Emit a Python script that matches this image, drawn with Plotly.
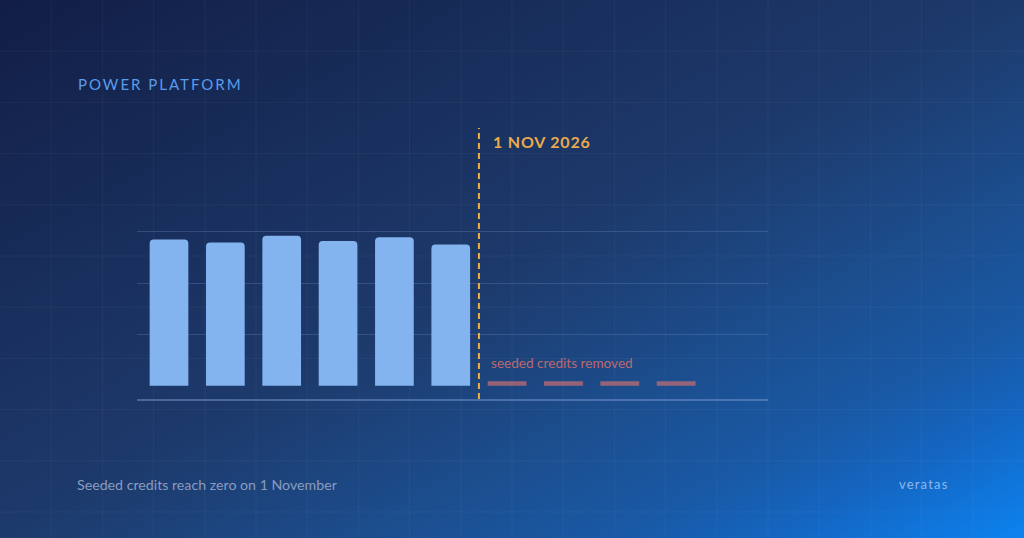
import base64
import plotly.graph_objects as go

# ---- data ----
months = ["May", "Jun", "Jul", "Aug", "Sep", "Oct", "Nov", "Dec", "Jan", "Feb"]
seeded_credits = [285, 279, 292, 282, 289, 275]          # months before cutoff
removed_credits = [0, 0, 0, 0]                           # months after cutoff
grid_values = [100, 200, 300]
title_text = "POWER PLATFORM"
cutoff_label = "1 NOV 2026"
removed_label = "seeded credits removed"
footer_text = "Seeded credits reach zero on 1 November"
brand_text = "veratas"

W, H = 1024, 538
FONT = "Lato, 'Noto Sans', sans-serif"

# ---- background (gradient + faint grid) as SVG image ----
grid_lines = []
step = W / 20
k = 1
while k * step < W:
    grid_lines.append(f'<line x1="{k*step:.1f}" y1="0" x2="{k*step:.1f}" y2="{H}"/>')
    k += 1
k = 1
while k * step < H:
    grid_lines.append(f'<line x1="0" y1="{k*step:.1f}" x2="{W}" y2="{k*step:.1f}"/>')
    k += 1
svg = f'''<svg xmlns="http://www.w3.org/2000/svg" width="{W}" height="{H}" viewBox="0 0 {W} {H}" preserveAspectRatio="none">
<defs>
<linearGradient id="g" x1="0" y1="0" x2="1" y2="1">
<stop offset="0" stop-color="#121e46"/>
<stop offset="0.5" stop-color="#1d3a6c"/>
<stop offset="0.68" stop-color="#1c4e8e"/>
<stop offset="0.8" stop-color="#1959a5"/>
<stop offset="0.88" stop-color="#1466c2"/>
<stop offset="1" stop-color="#0c83f0"/>
</linearGradient>
</defs>
<rect width="{W}" height="{H}" fill="url(#g)"/>
<g stroke="rgba(255,255,255,0.045)" stroke-width="1">{''.join(grid_lines)}</g>
</svg>'''
bg_uri = "data:image/svg+xml;base64," + base64.b64encode(svg.encode()).decode()

# ---- geometry ----
n_before = len(seeded_credits)
x_before = list(range(n_before))
x_after = list(range(n_before, n_before + len(removed_credits)))
half_w = 0.345
cutoff_x = n_before - 0.5

x_dom = [137 / W, 768 / W]
y_dom = [1 - 399 / H, 1 - 120 / H]
x_range = [-0.568, 10.63]
y_range = [-26, 517.6]

fig = go.Figure()

fig.add_trace(go.Bar(
    x=x_before, y=seeded_credits, width=2 * half_w * 0.995,
    marker=dict(color="#83b4f0", cornerradius=4, line=dict(width=0)),
    hoverinfo="skip", showlegend=False,
))

seg_x, seg_y = [], []
for xi, v in zip(x_after, removed_credits):
    seg_x += [xi - half_w, xi + half_w, None]
    seg_y += [v + 4, v + 4, None]
fig.add_trace(go.Scatter(
    x=seg_x, y=seg_y, mode="lines",
    line=dict(color="rgba(172,104,116,0.85)", width=4.5),
    hoverinfo="skip", showlegend=False,
))

fig.add_shape(type="line", xref="x", yref="y", x0=cutoff_x, x1=cutoff_x,
              y0=y_range[0], y1=502,
              line=dict(color="#f0b03e", width=2, dash="6px,4px"))

fig.update_layout(
    width=W, height=H,
    margin=dict(l=0, r=0, t=0, b=0),
    paper_bgcolor="#16264f",
    plot_bgcolor="rgba(0,0,0,0)",
    images=[dict(source=bg_uri, xref="paper", yref="paper", x=0, y=1,
                 sizex=1, sizey=1, sizing="stretch", layer="below")],
    xaxis=dict(domain=x_dom, range=x_range, showgrid=False, zeroline=False,
               showticklabels=False, ticks="", showline=True,
               linecolor="rgba(130,160,215,0.45)", linewidth=1.5,
               tickvals=list(range(len(months))), ticktext=months),
    yaxis=dict(domain=y_dom, range=y_range, tickvals=grid_values,
               showticklabels=False, ticks="", zeroline=False,
               showgrid=True, gridcolor="rgba(120,150,205,0.28)", gridwidth=1.2),
    bargap=0.31,
    annotations=[
        dict(text=f'<span style="letter-spacing:2.0px">{title_text}</span>',
             xref="paper", yref="paper", x=75.5 / W, y=1 - 84 / H,
             xanchor="left", yanchor="middle", showarrow=False,
             font=dict(family=FONT, size=15, color="#5a9cec")),
        dict(text=f'<span style="letter-spacing:0.8px">{cutoff_label}</span>',
             xref="paper", yref="paper", x=491 / W, y=1 - 141.5 / H,
             xanchor="left", yanchor="middle", showarrow=False,
             font=dict(family=FONT, size=16, color="#e9a94b", weight=700)),
        dict(text=removed_label,
             xref="paper", yref="paper", x=488.5 / W, y=1 - 363 / H,
             xanchor="left", yanchor="middle", showarrow=False,
             font=dict(family=FONT, size=13.6, color="#b96a70")),
        dict(text=footer_text,
             xref="paper", yref="paper", x=75 / W, y=1 - 484.5 / H,
             xanchor="left", yanchor="middle", showarrow=False,
             font=dict(family=FONT, size=14.2, color="#8a9cbf")),
        dict(text=f'<span style="letter-spacing:1.2px">{brand_text}</span>',
             xref="paper", yref="paper", x=897 / W, y=1 - 484 / H,
             xanchor="left", yanchor="middle", showarrow=False,
             font=dict(family=FONT, size=13, color="#8cb8ec")),
    ],
)

fig.write_html("out.html", config={"displayModeBar": False},
               post_script="document.body.style.margin='0';document.body.style.overflow='hidden';")
